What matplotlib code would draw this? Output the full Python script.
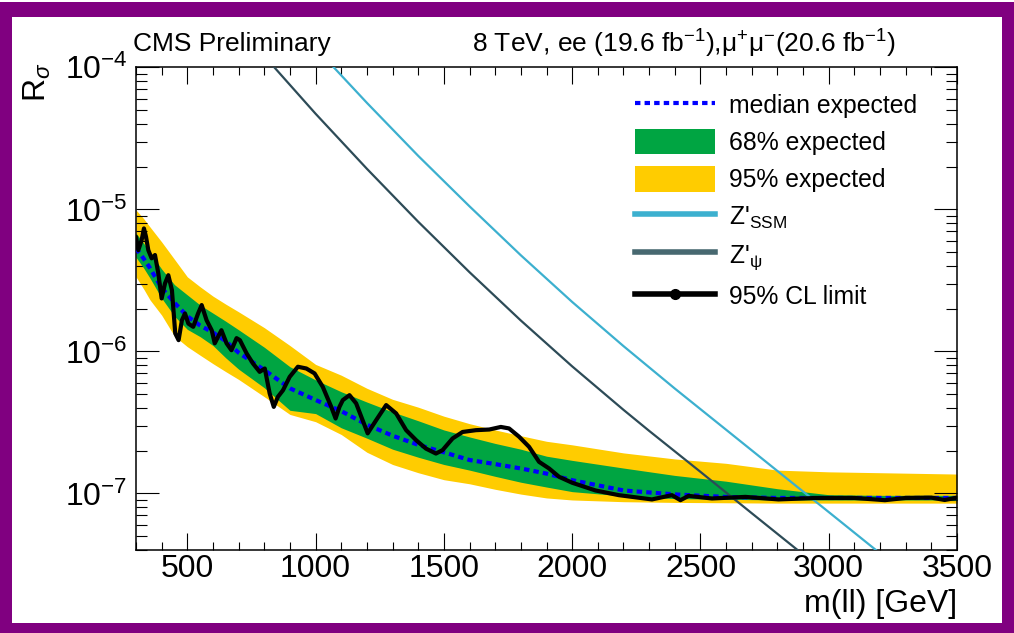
import numpy as np
import matplotlib
matplotlib.use("Agg")
import matplotlib.pyplot as plt
from matplotlib.patches import Rectangle, Patch
from matplotlib.lines import Line2D
from matplotlib.ticker import LogLocator, MultipleLocator, NullFormatter, LogFormatterMathtext

# ---- data -------------------------------------------------------------
mass_band = [300, 330, 355, 400, 450, 500, 550, 600, 650, 700, 800, 900, 1000,
             1100, 1200, 1300, 1400, 1500, 1600, 1700, 1800, 1900, 2000, 2200,
             2400, 2600, 2800, 3000, 3200, 3500]
exp_median = [5.3e-6, 4.5e-6, 3.85e-6, 2.8e-6, 2.2e-6, 1.77e-6, 1.52e-6, 1.36e-6,
              1.18e-6, 9.8e-7, 7.4e-7, 5.5e-7, 4.55e-7, 3.8e-7, 3.05e-7, 2.55e-7,
              2.2e-7, 1.95e-7, 1.72e-7, 1.61e-7, 1.5e-7, 1.38e-7, 1.24e-7, 1.05e-7,
              9.85e-8, 9.45e-8, 9.3e-8, 9.3e-8, 9.3e-8, 9.3e-8]
exp_hi68 = [6.8e-6, 5.77e-6, 4.97e-6, 3.8e-6, 2.95e-6, 2.5e-6, 2.12e-6, 1.86e-6,
            1.63e-6, 1.42e-6, 1.07e-6, 7.8e-7, 6.3e-7, 5.2e-7, 4.4e-7, 3.75e-7,
            3.25e-7, 2.8e-7, 2.5e-7, 2.25e-7, 2.05e-7, 1.83e-7, 1.71e-7, 1.51e-7,
            1.34e-7, 1.22e-7, 1.08e-7, 9.8e-8, 9.7e-8, 9.7e-8]
exp_lo68 = [4.6e-6, 3.86e-6, 3.27e-6, 2.37e-6, 1.77e-6, 1.43e-6, 1.27e-6, 1.1e-6,
            9.0e-7, 7.5e-7, 5.55e-7, 3.85e-7, 3.65e-7, 2.9e-7, 2.45e-7, 2.05e-7,
            1.8e-7, 1.6e-7, 1.46e-7, 1.32e-7, 1.2e-7, 1.11e-7, 1.03e-7, 9.6e-8,
            9.2e-8, 9.1e-8, 9.0e-8, 9.0e-8, 9.0e-8, 9.0e-8]
exp_hi95 = [9.9e-6, 8.6e-6, 7.5e-6, 5.9e-6, 4.45e-6, 3.35e-6, 2.85e-6, 2.45e-6,
            2.15e-6, 1.9e-6, 1.47e-6, 1.1e-6, 8.1e-7, 6.8e-7, 5.5e-7, 4.6e-7,
            4.05e-7, 3.5e-7, 3.1e-7, 2.8e-7, 2.55e-7, 2.33e-7, 2.2e-7, 1.93e-7,
            1.75e-7, 1.63e-7, 1.46e-7, 1.42e-7, 1.40e-7, 1.37e-7]
exp_lo95 = [3.35e-6, 2.75e-6, 2.3e-6, 1.8e-6, 1.28e-6, 1.08e-6, 9.4e-7, 8.2e-7,
            7.2e-7, 6.35e-7, 4.8e-7, 3.6e-7, 3.2e-7, 2.6e-7, 1.95e-7, 1.6e-7,
            1.4e-7, 1.25e-7, 1.17e-7, 1.07e-7, 9.9e-8, 9.3e-8, 9.0e-8, 8.75e-8,
            8.65e-8, 8.6e-8, 8.55e-8, 8.55e-8, 8.55e-8, 8.55e-8]

obs_mass = [300, 309, 322, 331, 339, 348, 361, 374, 387, 400, 413, 426, 440, 453,
            466, 479, 491, 504, 523, 542, 556, 575, 595, 607, 620, 633, 653, 672,
            692, 705, 731, 756, 782, 802, 821, 837, 853, 873, 899, 931, 964, 996,
            1028, 1061, 1078, 1093, 1106, 1132, 1158, 1203, 1236, 1275, 1314, 1353,
            1392, 1430, 1469, 1495, 1534, 1573, 1625, 1677, 1722, 1754, 1793, 1832,
            1871, 1910, 1949, 2000, 2091, 2182, 2311, 2389, 2422, 2454, 2545, 2675,
            2804, 2950, 3100, 3219, 3300, 3400, 3452, 3500]
obs_limit = [6.41e-6, 5.16e-6, 6.08e-6, 7.34e-6, 6.41e-6, 5.16e-6, 4.52e-6, 4.77e-6,
             3.54e-6, 2.36e-6, 3.01e-6, 3.44e-6, 2.70e-6, 1.34e-6, 1.20e-6, 1.66e-6,
             1.85e-6, 1.57e-6, 1.49e-6, 1.85e-6, 2.12e-6, 1.66e-6, 1.41e-6, 1.14e-6,
             1.27e-6, 1.41e-6, 1.14e-6, 1.02e-6, 1.24e-6, 1.20e-6, 9.69e-7, 8.22e-7,
             7.18e-7, 7.58e-7, 5.06e-7, 4.07e-7, 4.79e-7, 5.33e-7, 6.62e-7, 7.80e-7,
             7.58e-7, 7.0e-7, 5.63e-7, 4.07e-7, 3.37e-7, 4.07e-7, 4.54e-7, 4.92e-7,
             4.31e-7, 2.65e-7, 3.28e-7, 4.19e-7, 3.66e-7, 2.79e-7, 2.37e-7, 2.07e-7,
             1.91e-7, 2.02e-7, 2.44e-7, 2.71e-7, 2.79e-7, 2.82e-7, 2.94e-7, 2.87e-7,
             2.51e-7, 2.13e-7, 1.67e-7, 1.50e-7, 1.31e-7, 1.19e-7, 1.05e-7, 9.73e-8,
             9.08e-8, 9.73e-8, 8.97e-8, 9.62e-8, 9.22e-8, 9.46e-8, 9.08e-8, 9.3e-8,
             9.3e-8, 8.97e-8, 9.3e-8, 9.35e-8, 9.0e-8, 9.35e-8]

ssm_mass = [1000, 1200, 1400, 1600, 1800, 2000, 2200, 2400, 2600, 2800, 3000,
            3200, 3300]
ssm_xsec = [1.37e-4, 5.62e-5, 2.38e-5, 1.05e-5, 4.75e-6, 2.23e-6, 1.09e-6, 5.48e-7,
            2.81e-7, 1.44e-7, 7.40e-8, 3.79e-8, 2.72e-8]
psi_mass = [800, 1000, 1200, 1400, 1600, 1800, 2000, 2200, 2300, 2500, 2700, 2950]
psi_xsec = [1.20e-4, 4.71e-5, 1.93e-5, 8.18e-6, 3.61e-6, 1.65e-6, 7.85e-7, 3.88e-7,
            2.76e-7, 1.42e-7, 7.26e-8, 3.15e-8]

# ---- style ------------------------------------------------------------
plt.rcParams['font.family'] = ['Liberation Sans', 'DejaVu Sans']
plt.rcParams['mathtext.fontset'] = 'custom'
plt.rcParams['mathtext.rm'] = 'Liberation Sans'
plt.rcParams['mathtext.it'] = 'Liberation Sans:italic'
plt.rcParams['mathtext.bf'] = 'Liberation Sans:bold'
plt.rcParams['mathtext.sf'] = 'Liberation Sans'

C_GREEN = '#00a542'
C_YELLOW = '#ffcc00'
C_SSM = '#3cb0cf'
C_PSI = '#2d4b57'
C_PSI_LEG = '#476870'
C_MED = '#0000ff'
MED_STYLE = (0, (1.3, 1.0))

W, H = 1014, 633
fig = plt.figure(figsize=(W / 100, H / 100), dpi=100)

# purple slide frame around the plot
fig.patches.append(Rectangle((0, 0), 1, 631 / H, transform=fig.transFigure,
                             facecolor='#800080', edgecolor='none', zorder=-3))
fig.patches.append(Rectangle((12 / W, 10 / H), 990 / W, 606 / H,
                             transform=fig.transFigure, facecolor='white',
                             edgecolor='none', zorder=-2))

ax = fig.add_axes([136 / W, 83 / H, (957 - 136) / W, (550 - 67.3) / H])
ax.set_facecolor('white')

ax.fill_between(mass_band, exp_lo95, exp_hi95, color=C_YELLOW, lw=0, zorder=1)
ax.fill_between(mass_band, exp_lo68, exp_hi68, color=C_GREEN, lw=0, zorder=2)
ax.plot(mass_band, exp_median, color=C_MED, lw=3, ls=MED_STYLE, zorder=3)
ax.plot(ssm_mass, ssm_xsec, color=C_SSM, lw=1.6, zorder=4)
ax.plot(psi_mass, psi_xsec, color=C_PSI, lw=1.6, zorder=4)
ax.plot(obs_mass, obs_limit, color='black', lw=3, solid_joinstyle='round',
        solid_capstyle='round', zorder=5)

ax.set_yscale('log')
ax.set_xlim(300, 3500)
ax.set_ylim(4e-8, 1e-4)

ax.xaxis.set_major_locator(MultipleLocator(500))
ax.xaxis.set_minor_locator(MultipleLocator(100))
ax.yaxis.set_major_locator(LogLocator(base=10, numticks=10))
ax.yaxis.set_minor_locator(LogLocator(base=10, subs=np.arange(2, 10), numticks=20))
ax.yaxis.set_major_formatter(LogFormatterMathtext())
ax.yaxis.set_minor_formatter(NullFormatter())

ax.tick_params(which='both', direction='in', top=True, right=True, width=0.8,
               colors='black')
ax.tick_params(axis='x', which='major', length=12, labelsize=23, pad=3)
ax.tick_params(axis='x', which='minor', length=6)
ax.tick_params(axis='y', which='major', length=16.5, labelsize=23, pad=6)
ax.tick_params(axis='y', which='minor', length=8)
for sp in ax.spines.values():
    sp.set_linewidth(1.1)

# axis titles and headers
fig.text(957 / W, 1 - 604 / H, 'm(ll) [GeV]', ha='right', va='center', fontsize=23)
fig.text(37 / W, 1 - 62 / H, r'R$_{\sigma}$', rotation=90, ha='center', va='top',
         fontsize=23)
fig.text(133 / W, 1 - 44 / H, 'CMS Preliminary', ha='left', va='center', fontsize=19)
fig.text(896 / W, 1 - 44 / H,
         r'8 TeV, ee (19.6 fb$^{-1}$),μ$^{+}$μ$^{-}$(20.6 fb$^{-1}$)',
         ha='right', va='center', fontsize=19)

# legend
handles = [
    Line2D([], [], color=C_MED, lw=3, ls=MED_STYLE),
    Patch(facecolor=C_GREEN, edgecolor='none'),
    Patch(facecolor=C_YELLOW, edgecolor='none'),
    Line2D([], [], color=C_SSM, lw=4),
    Line2D([], [], color=C_PSI_LEG, lw=4),
    Line2D([], [], color='black', lw=4, marker='o', ms=7),
]
labels = ['median expected', '68% expected', '95% expected',
          r"Z'$_{\mathrm{SSM}}$", r"Z'$_{\mathrm{\psi}}$", '95% CL limit']
fig.legend(handles, labels, loc='upper left', bbox_to_anchor=(635 / W, 1 - 92 / H),
           frameon=False, fontsize=17.8, handlelength=3.25, handleheight=1.2,
           handletextpad=0.55, labelspacing=0.45, borderpad=0, borderaxespad=0,
           numpoints=1)

fig.savefig('out.png', dpi=100)
